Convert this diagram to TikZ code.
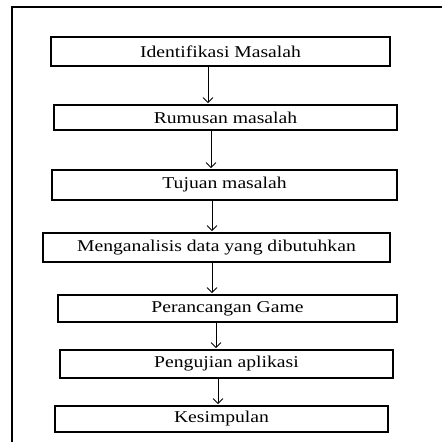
\documentclass[tikz,border=0pt]{standalone}
\usepackage{fontspec}
\setmainfont{Liberation Serif}
\newfontfamily\stepfont{Liberation Serif}[FakeStretch=1.19]
\usetikzlibrary{arrows.meta}

\begin{document}
\begin{tikzpicture}[x=1pt, y=-1pt,
    box/.style={draw, line width=1.8pt, inner sep=0pt, minimum height=28pt,
                align=center, font=\stepfont\fontsize{16.5}{18}\selectfont},
    flow/.style={-{Straight Barb[length=5pt, width=10pt]}, line width=0.8pt, shorten >=1pt},
]
    \useasboundingbox (0,0) rectangle (442,442);
    \draw[line width=1.8pt] (12,442) -- (12,7) -- (442,7);

    \node[box, minimum width=339pt, minimum height=29pt] (ident) at (220.5,51.5) {Identifikasi Masalah};
    \node[box, minimum width=343pt, minimum height=25pt] (rumus) at (225.5,117.5) {Rumusan masalah};
    \node[box, minimum width=345pt, minimum height=30pt] (tujuan) at (224.5,185) {Tujuan masalah};
    \node[box, minimum width=347pt, minimum height=29pt] (analisis) at (216.5,247.5) {Menganalisis data yang dibutuhkan};
    \node[box, minimum width=339pt, minimum height=27pt] (rancang) at (227.5,308.5) {Perancangan Game};
    \node[box, minimum width=333pt, minimum height=28pt] (uji) at (226.5,364) {Pengujian aplikasi};
    \node[box, minimum width=333pt, minimum height=26pt] (simpul) at (221.5,419) {Kesimpulan};

    \draw[flow] (ident.south -| 208,0) -- (rumus.north -| 208,0);
    \draw[flow] (rumus.south -| 211,0) -- (tujuan.north -| 211,0);
    \draw[flow] (tujuan.south -| 212,0) -- (analisis.north -| 212,0);
    \draw[flow] (analisis.south -| 212,0) -- (rancang.north -| 212,0);
    \draw[flow] (rancang.south -| 216,0) -- (uji.north -| 216,0);
    \draw[flow] (uji.south -| 218,0) -- (simpul.north -| 218,0);

\end{tikzpicture}
\end{document}
